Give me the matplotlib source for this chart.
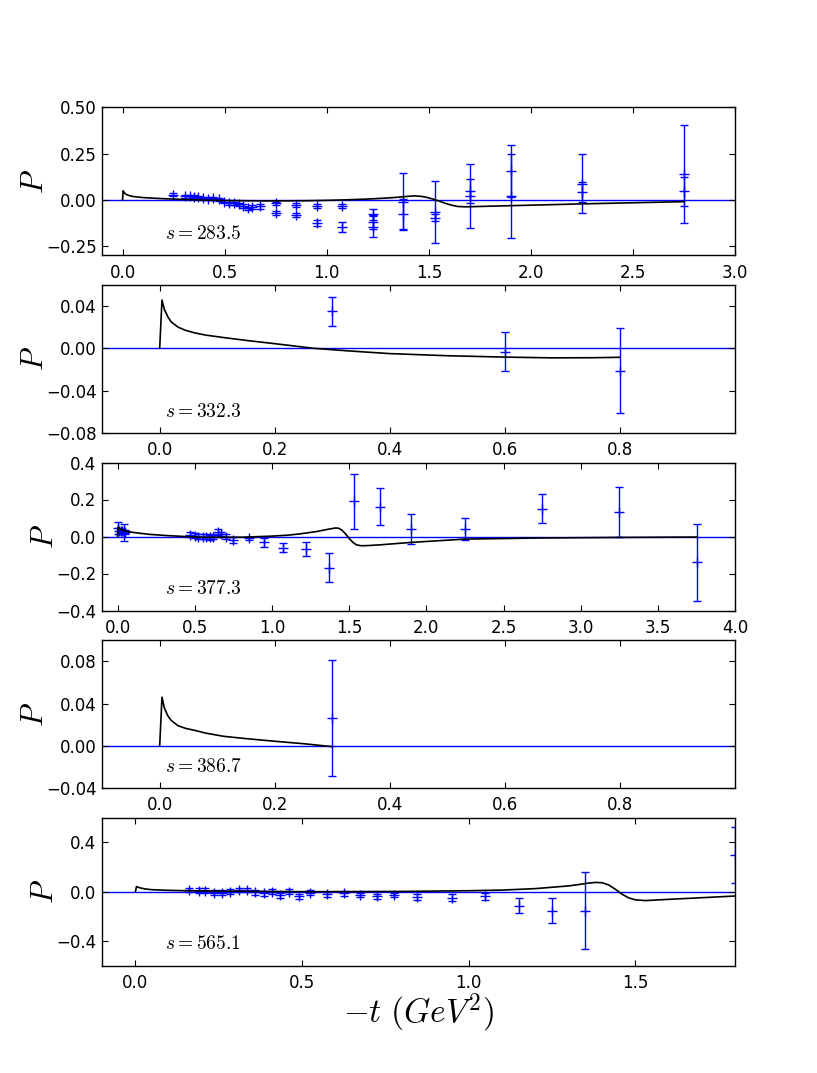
import matplotlib
matplotlib.use('Agg')
import matplotlib.pyplot as plt

plt.rcParams.update({
    'mathtext.fontset': 'cm',
    'font.family': ['DejaVu Sans'],
    'font.size': 12,
    'xtick.direction': 'in', 'ytick.direction': 'in',
    'xtick.top': True, 'ytick.right': True,
    'xtick.major.size': 4, 'ytick.major.size': 4,
    'xtick.major.pad': 6, 'ytick.major.pad': 4,
    'axes.linewidth': 1.0,
})

# ---------------- data ----------------
s_values = ["283.5", "332.3", "377.3", "386.7", "565.1"]

# s = 283.5
t1 = [0.245, 0.305, 0.33, 0.35, 0.37, 0.395, 0.42, 0.445, 0.47, 0.495, 0.52, 0.545,
      0.57, 0.59, 0.615, 0.635, 0.675, 0.75, 0.75, 0.85, 0.85, 0.95, 0.95, 1.075, 1.075,
      1.225, 1.225, 1.225, 1.375, 1.375, 1.53, 1.53, 1.7, 1.7, 1.9, 1.9, 2.25, 2.25,
      2.75, 2.75]
p1 = [0.027, 0.018, 0.018, 0.016, 0.013, 0.009, 0.007, 0.009, 0.004, -0.011, -0.018, -0.02,
      -0.024, -0.033, -0.047, -0.04, -0.035, -0.02, -0.072, -0.027, -0.083, -0.033, -0.125,
      -0.033, -0.147, -0.078, -0.12, -0.145, -0.01, -0.078, -0.066, -0.096, 0.02, 0.05,
      0.02, 0.155, 0.088, 0.04, 0.141, 0.045]
e1 = [0.008, 0.008, 0.008, 0.008, 0.008, 0.008, 0.008, 0.008, 0.008, 0.008, 0.008, 0.008,
      0.008, 0.01, 0.01, 0.01, 0.014, 0.01, 0.012, 0.01, 0.012, 0.012, 0.018, 0.012, 0.025,
      0.03, 0.04, 0.055, 0.155, 0.08, 0.166, 0.02, 0.175, 0.065, 0.228, 0.14, 0.16, 0.054,
      0.265, 0.08]
tc1 = [0.0, 0.003, 0.01, 0.02, 0.035, 0.05, 0.075, 0.1, 0.15, 0.2, 0.3, 0.4, 0.5, 0.7,
       0.9, 1.0, 1.1, 1.2, 1.3, 1.35, 1.4, 1.43, 1.46, 1.49, 1.52, 1.55, 1.58, 1.61, 1.64,
       1.68, 1.75, 2.0, 2.25, 2.5, 2.75]
pc1 = [0.0, 0.049, 0.036, 0.028, 0.022, 0.018, 0.015, 0.012, 0.009, 0.006, 0.002, -0.002,
       -0.004, -0.006, -0.005, -0.003, 0.0, 0.004, 0.01, 0.014, 0.019, 0.021, 0.019, 0.013,
       0.004, -0.007, -0.019, -0.029, -0.036, -0.038, -0.036, -0.029, -0.022, -0.016,
       -0.01]

# s = 332.3
t2 = [0.3, 0.6, 0.8]
p2 = [0.035, -0.003, -0.021]
e2 = [0.014, 0.018, 0.040]
tc2 = [0.0, 0.004, 0.008, 0.014, 0.02, 0.032, 0.045, 0.061, 0.08, 0.111, 0.15, 0.2,
       0.268, 0.33, 0.4, 0.5, 0.6, 0.68, 0.75, 0.8]
pc2 = [0.0, 0.0457, 0.037, 0.030, 0.025, 0.020, 0.017, 0.0146, 0.0125, 0.0102, 0.0075,
       0.0044, 0.0, -0.0025, -0.005, -0.007, -0.0083, -0.0090, -0.0089, -0.0085]

# s = 377.3
t3 = [0.0, 0.01, 0.02, 0.03, 0.04, 0.05, 0.47, 0.50, 0.52, 0.55, 0.57, 0.60, 0.62, 0.65,
      0.67, 0.70, 0.75, 0.85, 0.95, 1.07, 1.22, 1.37, 1.53, 1.70, 1.90, 2.25, 2.75, 3.25,
      3.75]
p3 = [0.045, 0.03, 0.028, 0.03, 0.02, 0.025, 0.01, 0.005, 0.0, 0.0, 0.0, -0.005, 0.0, 0.025,
      0.015, 0.0, -0.02, -0.01, -0.032, -0.06, -0.068, -0.168, 0.19, 0.16, 0.04, 0.041,
      0.151, 0.135, -0.14]
e3 = [0.033, 0.015, 0.012, 0.012, 0.045, 0.012, 0.012, 0.012, 0.012, 0.012, 0.012, 0.012,
      0.012, 0.015, 0.012, 0.012, 0.015, 0.01, 0.024, 0.026, 0.037, 0.08, 0.149, 0.1, 0.08,
      0.06, 0.08, 0.135, 0.21]
tc3 = [0.0, 0.003, 0.015, 0.03, 0.06, 0.1, 0.2, 0.32, 0.53, 0.8, 1.0, 1.1, 1.18, 1.29,
       1.35, 1.39, 1.41, 1.43, 1.45, 1.47, 1.49, 1.51, 1.53, 1.55, 1.58, 1.62, 1.7, 1.9,
       2.25, 2.75, 3.25, 3.75]
pc3 = [0.0, 0.05, 0.042, 0.035, 0.028, 0.022, 0.012, 0.005, -0.004, -0.004, 0.002, 0.007,
       0.014, 0.027, 0.037, 0.043, 0.046, 0.045, 0.036, 0.02, 0.0, -0.02, -0.036, -0.046,
       -0.05, -0.049, -0.045, -0.032, -0.014, -0.008, -0.005, -0.003]

# s = 386.7
t4 = [0.3]
p4 = [0.026]
e4 = [0.055]
tc4 = [0.0, 0.004, 0.008, 0.014, 0.02, 0.032, 0.045, 0.061, 0.08, 0.111, 0.15, 0.2,
       0.25, 0.296, 0.3]
pc4 = [0.0, 0.046, 0.036, 0.0285, 0.024, 0.019, 0.0165, 0.0146, 0.012, 0.009, 0.0068,
       0.0043, 0.002, -0.0006, -0.0008]

# s = 565.1
t5 = [0.16, 0.19, 0.21, 0.235, 0.26, 0.285, 0.31, 0.335, 0.36, 0.385, 0.41, 0.435, 0.46,
      0.49, 0.525, 0.575, 0.625, 0.675, 0.725, 0.775, 0.845, 0.95, 1.05, 1.15, 1.25, 1.35,
      1.8]
p5 = [0.014, 0.008, 0.008, -0.008, -0.008, 0.0, 0.014, 0.014, -0.003, -0.014, 0.0, -0.03,
      0.0, -0.036, -0.008, -0.022, -0.014, -0.027, -0.036, -0.027, -0.041, -0.049, -0.038,
      -0.112, -0.153, -0.153, 0.3]
e5 = [0.02, 0.02, 0.02, 0.02, 0.02, 0.02, 0.02, 0.02, 0.02, 0.02, 0.02, 0.02, 0.02, 0.02,
      0.02, 0.02, 0.02, 0.02, 0.02, 0.02, 0.025, 0.027, 0.03, 0.063, 0.099, 0.314, 0.226]
tc5 = [0.0, 0.003, 0.015, 0.03, 0.05, 0.1, 0.15, 0.3, 0.5, 0.8, 1.0, 1.1, 1.2, 1.3, 1.33,
       1.36, 1.38, 1.4, 1.42, 1.44, 1.46, 1.48, 1.5, 1.53, 1.6, 1.8]
pc5 = [0.0, 0.041, 0.03, 0.022, 0.016, 0.011, 0.008, 0.004, 0.0, 0.002, 0.008, 0.013,
       0.025, 0.047, 0.058, 0.07, 0.075, 0.073, 0.055, 0.02, -0.02, -0.05, -0.066, -0.072,
       -0.062, -0.035]

panels = [
    (t1, p1, e1, tc1, pc1, (-0.1, 3.0), [0.0, 0.5, 1.0, 1.5, 2.0, 2.5, 3.0],
     (-0.3, 0.5), [-0.25, 0.0, 0.25, 0.50], '%.2f', '%.1f'),
    (t2, p2, e2, tc2, pc2, (-0.1, 1.0), [0.0, 0.2, 0.4, 0.6, 0.8],
     (-0.08, 0.06), [-0.08, -0.04, 0.0, 0.04], '%.2f', '%.1f'),
    (t3, p3, e3, tc3, pc3, (-0.1, 4.0), [0.0, 0.5, 1.0, 1.5, 2.0, 2.5, 3.0, 3.5, 4.0],
     (-0.4, 0.4), [-0.4, -0.2, 0.0, 0.2, 0.4], '%.1f', '%.1f'),
    (t4, p4, e4, tc4, pc4, (-0.1, 1.0), [0.0, 0.2, 0.4, 0.6, 0.8],
     (-0.04, 0.1), [-0.04, 0.0, 0.04, 0.08], '%.2f', '%.1f'),
    (t5, p5, e5, tc5, pc5, (-0.1, 1.8), [0.0, 0.5, 1.0, 1.5],
     (-0.6, 0.6), [-0.4, 0.0, 0.4], '%.1f', '%.1f'),
]

fig, axes = plt.subplots(5, 1, figsize=(8.17, 10.73), dpi=100)
fig.subplots_adjust(left=0.125, right=0.9, bottom=0.1, top=0.9, hspace=0.2)

for ax, (t, p, e, tc, pc, xl, xt, yl, yt, yf, xf), s in zip(axes, panels, s_values):
    ax.axhline(0.0, color='b', lw=1.0, zorder=1)
    ax.errorbar(t, p, yerr=e, fmt='+', color='b', ecolor='b', capsize=3,
                elinewidth=1.0, capthick=1.0, markersize=7, mew=1.0, zorder=2)
    ax.plot(tc, pc, color='k', lw=1.2, zorder=3)
    ax.set_xlim(*xl)
    ax.set_ylim(*yl)
    ax.set_xticks(xt)
    ax.set_yticks(yt)
    ax.set_xticklabels([xf % v for v in xt])
    ax.set_yticklabels([(yf % v).replace('-', '\u2212') for v in yt])
    ax.set_ylabel('$P$', fontsize=22, labelpad=-2)
    ax.text(0.1, 0.11, '$s=%s$' % s, transform=ax.transAxes, fontsize=14,
            ha='left', va='baseline')

axes[-1].set_xlabel(r'$-t\ (GeV^2)$', fontsize=24, labelpad=0)

fig.savefig('out.png', dpi=100, facecolor='white')
